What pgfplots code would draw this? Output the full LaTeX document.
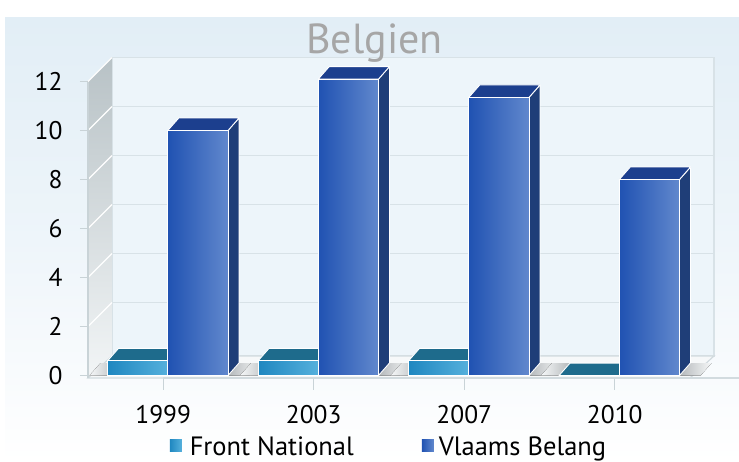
\documentclass[border=0pt]{standalone}
\usepackage{fontspec}
\setmainfont{PT Sans}
\usepackage{pgfplots}
\pgfplotsset{compat=1.18}
\usetikzlibrary{calc}

\definecolor{panelTop}{HTML}{E2EEF6}
\definecolor{panelMid}{HTML}{EEF5FA}
\definecolor{backwall}{HTML}{EDF5FA}
\definecolor{gridc}{HTML}{D8E2E7}
\definecolor{wallTop}{HTML}{B8C2C6}
\definecolor{wallBot}{HTML}{F2F5F6}
\definecolor{floorc}{HTML}{F6F8F9}
\definecolor{floorEdge}{HTML}{D2DBDF}
\definecolor{tickc}{HTML}{C9D3D7}
\definecolor{vbL}{HTML}{2052B2}
\definecolor{vbM}{HTML}{1A47A4}
\definecolor{vbR}{HTML}{6188CD}
\definecolor{vbTop}{HTML}{1C3F8E}
\definecolor{vbSide}{HTML}{1F3E78}
\definecolor{fnL}{HTML}{1F87C0}
\definecolor{fnM}{HTML}{2891C8}
\definecolor{fnR}{HTML}{55B0DC}
\definecolor{fnTop}{HTML}{1E6B8C}
\definecolor{fnSide}{HTML}{1A5A80}
\definecolor{titlec}{HTML}{A6A6A6}
\definecolor{shadowc}{HTML}{B4B8BA}

\newcommand{\dX}{0.073}
\newcommand{\dY}{0.51}

% #1 category x, #2 value, #3 bar shift, #4 left, #5 middle, #6 right, #7 top, #8 side
\newcommand{\threedbar}[8]{%
  \pgfmathsetmacro\cL{#1+#3-0.2}%
  \pgfmathsetmacro\cR{#1+#3+0.2}%
  \pgfmathsetmacro\cLb{\cL+\dX}%
  \pgfmathsetmacro\cRb{\cR+\dX}%
  \pgfmathsetmacro\hb{#2+\dY}%
  \edef\tmp{%
    \noexpand\addplot[forget plot, fill=#8, draw=white, line width=0.9pt, line join=round]
      coordinates {(\cR,0) (\cRb,\dY) (\cRb,\hb) (\cR,#2)} -- cycle;
    \noexpand\addplot[forget plot, fill=#7, draw=white, line width=0.9pt, line join=round]
      coordinates {(\cL,#2) (\cR,#2) (\cRb,\hb) (\cLb,\hb)} -- cycle;
  }\tmp
  \ifdim #2pt>0pt
    \addplot[forget plot, ybar, bar width=0.4, bar shift=#3, draw=white, line width=0.9pt,
      left color=#4, middle color=#5, right color=#6] coordinates {(#1,#2)};
  \fi
}

\begin{document}
\begin{tikzpicture}
\useasboundingbox (0,0) rectangle (739pt,462pt);
\fill[top color=panelTop, bottom color=white, middle color=panelMid] (5pt,0) rectangle (739pt,444pt);

\begin{axis}[
  at={(88pt,84pt)}, anchor=south west,
  scale only axis, width=602pt, height=296.45pt,
  xmin=-0.5, xmax=3.5, ymin=-0.1, ymax=12,
  clip=false,
  axis line style={draw=none},
  xtick={0,1,2,3},
  xticklabels={1999,2003,2007,2010},
  ytick={0,2,...,12},
  xtick pos=bottom, ytick pos=left,
  tick align=outside,
  major tick length=8pt,
  xtick style={draw=none},
  ytick style={draw=tickc, line width=1.2pt},
  /pgf/number format/assume math mode=true,
  tick label style={font=\fontsize{25.5}{30}\selectfont, text=black},
  yticklabel style={xshift=-14pt},
  xticklabel style={yshift=-16pt},
  legend style={at={(0.5,-0.232)}, anchor=center, draw=none, fill=none,
    legend columns=2, font=\fontsize{26.5}{30}\selectfont,
    /tikz/every even column/.append style={column sep=66pt},
    legend cell align=left, inner xsep=0pt},
]
% walls and floor
\fill[backwall, draw=gridc, line width=1.2pt] ($(axis cs:-0.5,-0.1)+(24pt,22pt)$) rectangle ($(axis cs:3.5,12)+(24pt,24pt)$);
\fill[top color=wallTop, bottom color=wallBot] (axis cs:-0.5,-0.1) -- (axis cs:-0.5,12) -- ($(axis cs:-0.5,12)+(24pt,24pt)$) -- ($(axis cs:-0.5,-0.1)+(24pt,22pt)$) -- cycle;
\pgfplotsinvokeforeach{2,4,6,8,10,12}{
  \draw[gridc, line width=1.6pt] ($(axis cs:-0.5,#1)+(24pt,24pt)$) -- ($(axis cs:3.5,#1)+(24pt,24pt)$);
  \draw[white, line width=1.2pt] (axis cs:-0.5,#1) -- ($(axis cs:-0.5,#1)+(24pt,24pt)$);
}
\fill[floorc, draw=floorEdge, line width=1.2pt] (axis cs:-0.5,-0.1) -- (axis cs:3.5,-0.1) -- ($(axis cs:3.5,-0.1)+(24pt,22pt)$) -- ($(axis cs:-0.5,-0.1)+(24pt,22pt)$) -- cycle;
\draw[floorEdge, line width=1.2pt] ($(axis cs:-0.5,-0.1)+(0,-2.5pt)$) -- ($(axis cs:3.5,-0.1)+(0,-2.5pt)$);
\draw[tickc, line width=1.2pt] (axis cs:-0.5,-0.1) -- (axis cs:-0.5,12);
\pgfplotsinvokeforeach{-0.5,0.5,1.5,2.5,3.5}{
  \draw[tickc, line width=1.2pt] ($(axis cs:#1,-0.1)+(0,-3pt)$) -- ($(axis cs:#1,-0.1)+(0,-14pt)$);
}
% soft shadows on the floor
\pgfplotsinvokeforeach{0,1,2,3}{
  \fill[left color=shadowc, right color=floorc] (axis cs:#1+0.43,0) -- (axis cs:#1+0.57,0) -- (axis cs:#1+0.57+\dX,\dY) -- (axis cs:#1+0.43+\dX,\dY) -- cycle;
  \fill[left color=floorc, right color=shadowc] (axis cs:#1-0.49,0) -- (axis cs:#1-0.37,0) -- (axis cs:#1-0.37+\dX,\dY) -- (axis cs:#1-0.49+\dX,\dY) -- cycle;
}

% Front National
\threedbar{0}{0.6}{-0.17}{fnL}{fnM}{fnR}{fnTop}{fnSide}
\threedbar{1}{0.6}{-0.17}{fnL}{fnM}{fnR}{fnTop}{fnSide}
\threedbar{2}{0.6}{-0.17}{fnL}{fnM}{fnR}{fnTop}{fnSide}
\threedbar{3}{0}{-0.17}{fnL}{fnM}{fnR}{fnTop}{fnSide}
% Vlaams Belang
\threedbar{0}{10}{0.23}{vbL}{vbM}{vbR}{vbTop}{vbSide}
\threedbar{1}{12.1}{0.23}{vbL}{vbM}{vbR}{vbTop}{vbSide}
\threedbar{2}{11.35}{0.23}{vbL}{vbM}{vbR}{vbTop}{vbSide}
\threedbar{3}{8}{0.23}{vbL}{vbM}{vbR}{vbTop}{vbSide}

\addlegendimage{legend image code/.code={\fill[draw=none, left color=fnL, right color=fnR] (0pt,-5pt) rectangle (12pt,7pt); \path[draw=none] (0pt,0pt) -- (18pt,0pt);}}
\addlegendentry{Front National}
\addlegendimage{legend image code/.code={\fill[draw=none, left color=vbL, right color=vbR] (0pt,-5pt) rectangle (12pt,7pt); \path[draw=none] (0pt,0pt) -- (15pt,0pt);}}
\addlegendentry{Vlaams Belang}
\end{axis}
\node[text=titlec, font=\fontsize{42}{48}\selectfont] at (374.5pt,419pt) {Belgien};
\end{tikzpicture}
\end{document}
